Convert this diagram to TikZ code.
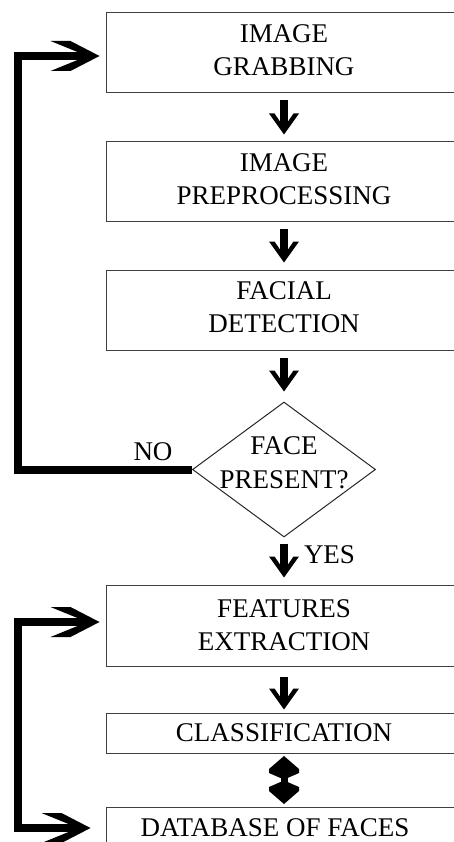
\documentclass[tikz,border=0pt]{standalone}
\usepackage{fontspec}
\setmainfont{Liberation Serif}
\usetikzlibrary{arrows.meta,shapes.geometric}

% Filled head for the short vertical arrows
\pgfdeclarearrow{
  name = DownHead,
  setup code = {
    \pgfarrowssettipend{0pt}
    \pgfarrowssetlineend{-12.5pt}
    \pgfarrowssetbackend{-21pt}
  },
  drawing code = {
    \pgfpathmoveto{\pgfqpoint{0pt}{0pt}}
    \pgfpathlineto{\pgfqpoint{-21pt}{15pt}}
    \pgfpathlineto{\pgfqpoint{-21pt}{9.5pt}}
    \pgfpathlineto{\pgfqpoint{-13pt}{4pt}}
    \pgfpathlineto{\pgfqpoint{-13pt}{-4pt}}
    \pgfpathlineto{\pgfqpoint{-21pt}{-9.5pt}}
    \pgfpathlineto{\pgfqpoint{-21pt}{-15pt}}
    \pgfpathclose
    \pgfusepathqfill
  }
}

% Barbed head for the horizontal feedback arrows
\pgfdeclarearrow{
  name = SideHead,
  setup code = {
    \pgfarrowssettipend{0pt}
    \pgfarrowssetlineend{-21.5pt}
    \pgfarrowssetbackend{-49pt}
  },
  drawing code = {
    \pgfpathmoveto{\pgfqpoint{0pt}{0pt}}
    \pgfpathlineto{\pgfqpoint{-29pt}{15pt}}
    \pgfpathlineto{\pgfqpoint{-49pt}{15pt}}
    \pgfpathlineto{\pgfqpoint{-22pt}{4pt}}
    \pgfpathlineto{\pgfqpoint{-22pt}{-4pt}}
    \pgfpathlineto{\pgfqpoint{-49pt}{-15pt}}
    \pgfpathlineto{\pgfqpoint{-29pt}{-15pt}}
    \pgfpathclose
    \pgfusepathqfill
  }
}

% Head used on both ends of the two-way arrow
\pgfdeclarearrow{
  name = TwoWayHead,
  setup code = {
    \pgfarrowssettipend{0pt}
    \pgfarrowssetlineend{-21.5pt}
    \pgfarrowssetbackend{-22pt}
  },
  drawing code = {
    \pgfpathmoveto{\pgfqpoint{0pt}{0pt}}
    \pgfpathlineto{\pgfqpoint{-13pt}{15pt}}
    \pgfpathlineto{\pgfqpoint{-17pt}{15pt}}
    \pgfpathlineto{\pgfqpoint{-22pt}{3.5pt}}
    \pgfpathlineto{\pgfqpoint{-22pt}{-3.5pt}}
    \pgfpathlineto{\pgfqpoint{-17pt}{-15pt}}
    \pgfpathlineto{\pgfqpoint{-13pt}{-15pt}}
    \pgfpathclose
    \pgfusepathqfill
  }
}

\begin{document}
\begin{tikzpicture}[x=1pt, y=-1pt,
  txt/.style={font=\fontsize{27}{33}\selectfont, align=center, inner sep=0pt},
  box/.style={txt, rectangle, draw=black!75, line width=1pt, minimum width=356pt},
  decision/.style={diamond, draw=black!85, line width=1pt, minimum width=183pt,
    minimum height=135pt, inner sep=0pt},
  flow/.style={line width=8pt, -{DownHead}},
  loopline/.style={line width=8pt, line join=miter}
]
\useasboundingbox (0,0) rectangle (454,842);
\clip (0,0) rectangle (454,842);

% process boxes
\node[box, minimum height=80pt, text depth=5pt] (grab) at (284,53) {IMAGE\\GRABBING};
\node[box, minimum height=80pt, text depth=5pt] (prep) at (284,182) {IMAGE\\PREPROCESSING};
\node[box, minimum height=80pt, text depth=5pt] (detect) at (284,310) {FACIAL\\DETECTION};
\node[decision] (face) at (284,469.5) {};
\node[txt, font=\fontsize{27}{34}\selectfont] (facetxt) at (284,463) {FACE\\PRESENT?};
\node[box, minimum height=81pt] (feat) at (284,625.5) {FEATURES\\EXTRACTION};
\node[box, minimum height=40pt] (class) at (284,733) {CLASSIFICATION};
\node[box, minimum height=60pt] (db) at (284,837) {};
\node[txt] (dbtxt) at (275,828) {DATABASE OF FACES};

% branch labels
\node[txt] (no) at (153,451.5) {NO};
\node[txt] (yes) at (329.5,554.5) {YES};

% main flow
\draw[flow, shorten <=7pt, shorten >=7pt] (grab.south) -- (prep.north);
\draw[flow, shorten <=6pt, shorten >=7pt] (prep.south) -- (detect.north);
\draw[flow, shorten <=7pt, shorten >=10pt] (detect.south) -- (face.north);
\draw[flow, shorten <=6pt, shorten >=7pt] (face.south) -- (feat.north);
\draw[flow, shorten <=10pt, shorten >=3pt] (feat.south) -- (class.north);
\draw[line width=7pt, {TwoWayHead}-{TwoWayHead}, shorten <=2.5pt, shorten >=2.5pt]
  (class.south) -- (db.north);

% feedback loops on the left
\coordinate (lx) at (18,0);
\coordinate (grabin) at ([yshift=-3pt]grab.west);
\coordinate (featin) at ([yshift=3.5pt]feat.west);
\coordinate (dbin) at ([yshift=9pt]db.west);
\draw[loopline, -{SideHead}, shorten >=6pt]
  (face.west) -- (face.west -| lx) -- (grabin -| lx) -- (grabin);
\draw[loopline, {SideHead}-{SideHead}, shorten <=6pt, shorten >=15pt]
  (featin) -- (featin -| lx) -- (dbin -| lx) -- (dbin);
\end{tikzpicture}
\end{document}
